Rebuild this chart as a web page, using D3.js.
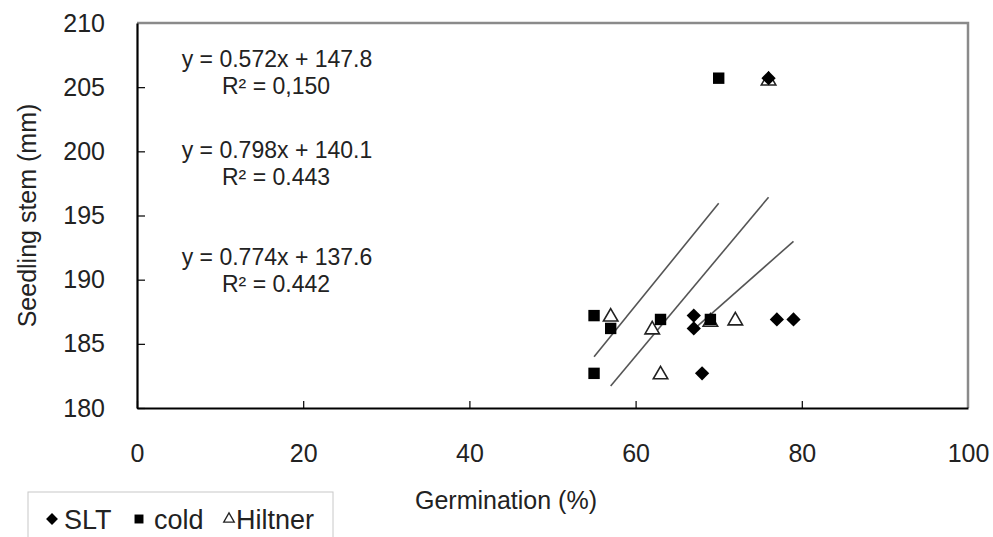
<!DOCTYPE html>
<html><head><meta charset="utf-8">
<script src="https://cdn.jsdelivr.net/npm/d3@7"></script>
<style>
html,body{margin:0;padding:0;background:#fff;}
svg{display:block;font-family:"Liberation Sans",Arial,sans-serif;}
</style></head>
<body><svg id="c" width="993" height="537"></svg>
<script>
// ---- data ----
const seriesNames = ["SLT", "cold", "Hiltner"];
const sltX = [67, 67, 77, 79, 68, 76];
const sltY = [187.2, 186.2, 186.9, 186.9, 182.7, 205.7];
const coldX = [55, 57, 63, 69, 55, 70];
const coldY = [187.2, 186.2, 186.9, 186.9, 182.7, 205.7];
const hiltX = [57, 62, 69, 72, 63, 76];
const hiltY = [187.1, 186.1, 186.7, 186.8, 182.6, 205.5];
const slopes = [0.572, 0.798, 0.774];
const intercepts = [147.8, 140.1, 137.6];
const eqLabels = ["y = 0.572x + 147.8", "y = 0.798x + 140.1", "y = 0.774x + 137.6"];
const r2Labels = ["R² = 0,150", "R² = 0.443", "R² = 0.442"];
const xTicks = [0, 20, 40, 60, 80, 100];
const yTicks = [180, 185, 190, 195, 200, 205, 210];

const svg = d3.select("#c");
const x = d3.scaleLinear().domain([0, 100]).range([137, 968]);
const y = d3.scaleLinear().domain([180, 210]).range([408, 23]);

// frame (top/right grey)
svg.append("path").attr("d", `M${x(0)},${y(210)}H${x(100)}V${y(180)}`)
  .attr("fill", "none").attr("stroke", "#8a8a8a").attr("stroke-width", 2.5);

// axes
const gx = svg.append("g").attr("transform", `translate(0,${y(180)})`)
  .call(d3.axisBottom(x).tickValues(xTicks).tickSizeInner(-7).tickSizeOuter(0).tickPadding(36));
const gy = svg.append("g").attr("transform", `translate(${x(0)},0)`)
  .call(d3.axisLeft(y).tickValues(yTicks).tickSizeInner(-8).tickSizeOuter(0).tickPadding(32));
[gx, gy].forEach(g => {
  g.select(".domain").attr("stroke", "#000").attr("stroke-width", 2.2);
  g.selectAll(".tick line").attr("stroke", "#000").attr("stroke-width", 1.2);
  g.selectAll(".tick text").attr("font-size", 25).attr("fill", "#222")
    .attr("font-family", "'Liberation Sans',Arial,sans-serif");
});
gx.selectAll(".tick").filter(d => d === 100).select("line").remove();
gy.selectAll(".tick").filter(d => d === 210).select("line").remove();

// axis titles
svg.append("text").attr("x", 506).attr("y", 509).attr("text-anchor", "middle")
  .attr("font-size", 25).attr("fill", "#222").text("Germination (%)");
svg.append("text").attr("transform", `translate(36,${(y(180) + y(210)) / 2}) rotate(-90)`)
  .attr("text-anchor", "middle").attr("font-size", 25).attr("fill", "#222").text("Seedling stem (mm)");

// trend lines
const seriesX = [sltX, coldX, hiltX];
seriesX.forEach((xs, i) => {
  const x0 = d3.min(xs), x1 = d3.max(xs);
  svg.append("line")
    .attr("x1", x(x0)).attr("y1", y(slopes[i] * x0 + intercepts[i]))
    .attr("x2", x(x1)).attr("y2", y(slopes[i] * x1 + intercepts[i]))
    .attr("stroke", "#555").attr("stroke-width", 1.6);
});

// equation labels
const eqY = [59, 150, 257];
const r2Y = [86, 177, 284];
eqLabels.forEach((t, i) => {
  svg.append("text").attr("x", 277).attr("y", eqY[i]).attr("dy", "0.35em")
    .attr("text-anchor", "middle").attr("font-size", 23).attr("fill", "#222").text(t);
  svg.append("text").attr("x", 276).attr("y", r2Y[i]).attr("dy", "0.35em")
    .attr("text-anchor", "middle").attr("font-size", 23).attr("fill", "#222").text(r2Labels[i]);
});

// markers
const diamond = d3.symbol().type(d3.symbolDiamond2).size(130);
const square = d3.symbol().type(d3.symbolSquare).size(130);
const tri = d3.symbol().type(d3.symbolTriangle2).size(150);

svg.append("g").selectAll("path").data(hiltX.map((v, i) => [v, hiltY[i]])).join("path")
  .attr("d", tri).attr("transform", d => `translate(${x(d[0])},${y(d[1])})`)
  .attr("fill", "#fff").attr("stroke", "#222").attr("stroke-width", 1.6);
svg.append("g").selectAll("path").data(coldX.map((v, i) => [v, coldY[i]])).join("path")
  .attr("d", square).attr("transform", d => `translate(${x(d[0])},${y(d[1])})`)
  .attr("fill", "#000");
svg.append("g").selectAll("path").data(sltX.map((v, i) => [v, sltY[i]])).join("path")
  .attr("d", diamond).attr("transform", d => `translate(${x(d[0])},${y(d[1])})`)
  .attr("fill", "#000");

// legend
const lg = svg.append("g");
lg.append("rect").attr("x", 28).attr("y", 492).attr("width", 305).attr("height", 60)
  .attr("fill", "#fff").attr("stroke", "#c8c8c8").attr("stroke-width", 1);
const legItems = [
  {sym: d3.symbol().type(d3.symbolDiamond2).size(90), fill: "#000", stroke: "none", mx: 52, tx: 64},
  {sym: d3.symbol().type(d3.symbolSquare).size(80), fill: "#000", stroke: "none", mx: 139, tx: 154},
  {sym: d3.symbol().type(d3.symbolTriangle2).size(80), fill: "#fff", stroke: "#222", mx: 229, tx: 236}
];
legItems.forEach((it, i) => {
  lg.append("path").attr("d", it.sym).attr("transform", `translate(${it.mx},519)`)
    .attr("fill", it.fill).attr("stroke", it.stroke).attr("stroke-width", 1.3);
  lg.append("text").attr("x", it.tx).attr("y", 529).attr("font-size", 27).attr("fill", "#222")
    .text(seriesNames[i]);
});
</script></body></html>
